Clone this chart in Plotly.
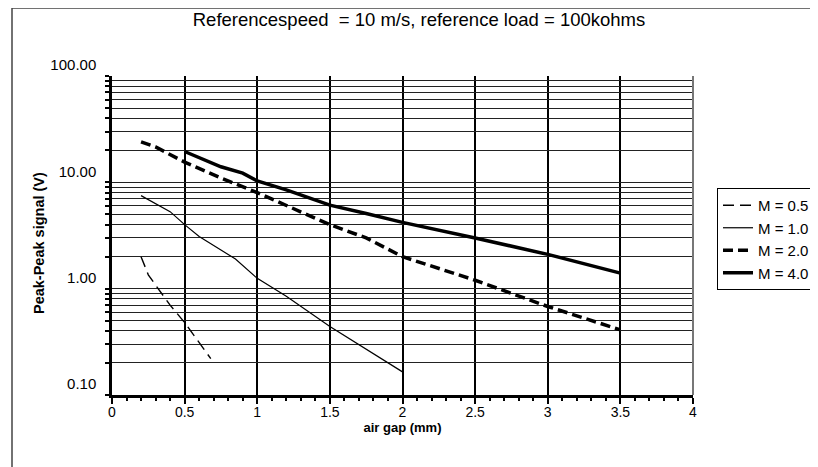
import plotly.graph_objects as go

# ---- data ----
gap_05 = [0.2, 0.25, 0.3, 0.4, 0.5, 0.6, 0.68]
sig_05 = [2.0, 1.35, 1.08, 0.7, 0.48, 0.31, 0.22]

gap_10 = [0.2, 0.3, 0.4, 0.5, 0.6, 0.7, 0.85, 1.0, 1.2, 1.5, 1.75, 2.0]
sig_10 = [7.5, 6.3, 5.3, 4.0, 3.1, 2.55, 1.9, 1.25, 0.85, 0.44, 0.27, 0.165]

gap_20 = [0.2, 0.3, 0.5, 0.75, 1.0, 1.25, 1.5, 1.75, 2.0, 2.5, 3.0, 3.5]
sig_20 = [24, 21.5, 15.5, 11, 8, 5.7, 4.0, 3.0, 2.0, 1.2, 0.68, 0.41]

gap_40 = [0.5, 0.6, 0.75, 0.9, 1.0, 1.2, 1.5, 1.75, 2.0, 2.5, 3.0, 3.5]
sig_40 = [19.5, 17, 14, 12.2, 10.3, 8.5, 6.1, 5.1, 4.2, 3.0, 2.1, 1.4]

series_names = ["M = 0.5", "M = 1.0", "M = 2.0", "M = 4.0"]

x_ticks = [0, 0.5, 1, 1.5, 2, 2.5, 3, 3.5, 4]
x_labels = ["0", "0.5", "1", "1.5", "2", "2.5", "3", "3.5", "4"]
decades = [0.1, 1, 10, 100]
decade_labels = ["0.10", "1.00", "10.00", "100.00"]

title_text = "Referencespeed  = 10 m/s, reference load = 100kohms"
x_title = "air gap (mm)"
y_title = "Peak-Peak signal (V)"

# y ticks at every 1..9 multiple, labels only on decades
y_tickvals = []
y_ticktext = []
for d, lab in zip(decades, decade_labels):
    if d == 100:
        y_tickvals.append(d)
        y_ticktext.append(lab)
        continue
    for m in range(1, 10):
        y_tickvals.append(round(d * m, 6))
        y_ticktext.append(lab if m == 1 else "")

FONT = "Liberation Sans, Arial, sans-serif"

fig = go.Figure()
fig.add_trace(go.Scatter(x=gap_05, y=sig_05, mode="lines", name=series_names[0],
                         line=dict(color="black", width=1.4, dash="11px,6px")))
fig.add_trace(go.Scatter(x=gap_10, y=sig_10, mode="lines", name=series_names[1],
                         line=dict(color="black", width=1.2)))
fig.add_trace(go.Scatter(x=gap_20, y=sig_20, mode="lines", name=series_names[2],
                         line=dict(color="black", width=3.5, dash="10px,5px")))
fig.add_trace(go.Scatter(x=gap_40, y=sig_40, mode="lines", name=series_names[3],
                         line=dict(color="black", width=3.5)))

# page body has an 8px margin: work in screen pixels, convert to figure pixels
OFF = 8
SW, SH = 818, 467
W, H = SW - OFF, SH - OFF
PX0, PX1, PY0, PY1 = 112, 693, 76, 395   # plot area in screen pixels
L = PX0 - OFF
T = PY0 - OFF
R = W - (PX1 - OFF)
B = H - (PY1 - OFF)
pw, ph = PX1 - PX0, PY1 - PY0

def px2xp(px):
    return (px - PX0) / pw

def py2yp(py):
    return 1 - (py - PY0) / ph

fig.update_layout(
    width=W, height=H,
    margin=dict(l=L, r=R, t=T, b=B, autoexpand=False),
    paper_bgcolor="white", plot_bgcolor="white",
    font=dict(family=FONT, color="black", size=14),
    title=dict(text=title_text, x=(419 - OFF) / W, xref="container", xanchor="center",
               y=1 - (20 - OFF) / H, yref="container", yanchor="middle",
               font=dict(size=18.5, family=FONT)),
    showlegend=True,
    legend=dict(x=px2xp(717), y=py2yp(188), xanchor="left", yanchor="top",
                bordercolor="black", borderwidth=1, bgcolor="white",
                font=dict(size=15, family=FONT), itemwidth=30,
                tracegroupgap=0),
    xaxis=dict(range=[0, 4], tickvals=x_ticks, ticktext=x_labels,
               showgrid=True, gridcolor="black", gridwidth=1.5,
               showline=True, linecolor="black", linewidth=2.5,
               ticks="outside", ticklen=6, tickwidth=1.5, tickcolor="black",
               minor=dict(dtick=0.1, ticks="outside", ticklen=3, tickwidth=1.5,
                          tickcolor="black", showgrid=False),
               zeroline=False, tickfont=dict(size=14), ticklabelstandoff=-4,
               title=dict(text="<b>" + x_title + "</b>", font=dict(size=13), standoff=5)),
    yaxis=dict(type="log", range=[-1, 2], tickvals=y_tickvals, ticktext=y_ticktext,
               showgrid=True, gridcolor="#222", gridwidth=1,
               showline=True, linecolor="black", linewidth=2.5,
               ticks="outside", ticklen=4, tickwidth=1.5, tickcolor="black",
               ticklabelshift=-11, ticklabelstandoff=6,
               zeroline=False, tickfont=dict(size=15)),
    shapes=[
        dict(type="line", xref="paper", yref="paper", x0=1, x1=1, y0=0, y1=1,
             line=dict(color="#777", width=2)),
        dict(type="rect", xref="paper", yref="paper",
             x0=px2xp(12), x1=px2xp(SW + 40), y0=py2yp(SH + 40), y1=py2yp(8),
             line=dict(color="#444", width=1.5), fillcolor="rgba(0,0,0,0)",
             layer="below"),
    ],
    annotations=[
        dict(text="<b>" + y_title + "</b>", textangle=-90, xref="paper", yref="paper",
             x=px2xp(39), y=py2yp(243), xanchor="center", yanchor="middle",
             showarrow=False, font=dict(size=14.5, family=FONT)),
    ],
)

fig.write_html("out.html")
